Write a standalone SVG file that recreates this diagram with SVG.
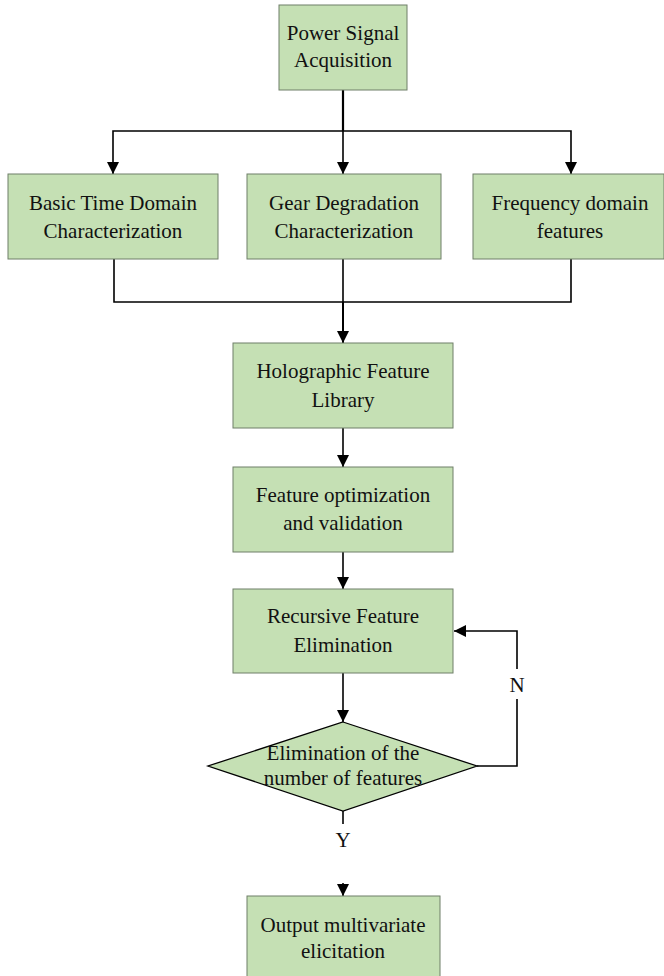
<svg xmlns="http://www.w3.org/2000/svg" width="664" height="976" viewBox="0 0 664 976">
<defs>
<marker id="arr" markerWidth="12" markerHeight="12" refX="12" refY="6" orient="auto" markerUnits="userSpaceOnUse">
<path d="M0,0 L12,6 L0,12 Z" fill="#000"/>
</marker>
<style>
.box{fill:#c5e0b4;stroke:#6f7f68;stroke-width:1}
.t{font-family:"Liberation Serif","Times New Roman",serif;font-size:21px;fill:#111;text-anchor:middle}
.c{fill:none;stroke:#000;stroke-width:1.6}
.ca{fill:none;stroke:#000;stroke-width:1.6;marker-end:url(#arr)}
</style>
</defs>
<rect width="664" height="976" fill="#fff"/>
<g id="connectors">
<path class="c" d="M343,90 V131" style="stroke-width:2.2"/>
<path class="ca" d="M343,131 H113 V174"/>
<path class="ca" d="M343,131 V174"/>
<path class="ca" d="M343,131 H571 V174"/>
<path class="c" d="M114,259 V302 H571 V259"/>
<path class="c" d="M343,259 V302"/>
<path class="ca" d="M343,302 V343" style="stroke-width:2"/>
<path class="ca" d="M343,428 V467"/>
<path class="ca" d="M343,552 V589"/>
<path class="ca" d="M343,673 V722"/>
<path class="c" d="M477,766 H517 V699"/>
<path class="ca" d="M517,669 V631 H454"/>
<path class="c" d="M343,811 V824"/>
<path class="ca" d="M343,883 V896"/>
<text class="t" x="517" y="692">N</text>
<text class="t" x="343" y="847">Y</text>
</g>
<g id="n1"><rect class="box" x="279" y="5" width="128" height="85"/>
<text class="t" x="343" y="40">Power Signal</text><text class="t" x="343" y="67">Acquisition</text></g>
<g id="n2"><rect class="box" x="8" y="174" width="210" height="85"/>
<text class="t" x="113" y="210">Basic Time Domain</text><text class="t" x="113" y="238">Characterization</text></g>
<g id="n3"><rect class="box" x="247" y="174" width="194" height="85"/>
<text class="t" x="344" y="210">Gear Degradation</text><text class="t" x="344" y="238">Characterization</text></g>
<g id="n4"><rect class="box" x="473" y="174" width="191" height="85"/>
<text class="t" x="570" y="210">Frequency domain</text><text class="t" x="570" y="238">features</text></g>
<g id="n5"><rect class="box" x="233" y="343" width="220" height="85"/>
<text class="t" x="343" y="378">Holographic Feature</text><text class="t" x="343" y="407">Library</text></g>
<g id="n6"><rect class="box" x="233" y="467" width="220" height="85"/>
<text class="t" x="343" y="502">Feature optimization</text><text class="t" x="343" y="530">and validation</text></g>
<g id="n7"><rect class="box" x="233" y="589" width="220" height="84"/>
<text class="t" x="343" y="623">Recursive Feature</text><text class="t" x="343" y="652">Elimination</text></g>
<g id="n8"><polygon class="box" points="343,722 477,766 343,811 208,766" style="stroke:#000;stroke-width:1.3"/>
<text class="t" x="343" y="760">Elimination of the</text><text class="t" x="343" y="785">number of features</text></g>
<g id="n9"><rect class="box" x="247" y="896" width="193" height="90"/>
<text class="t" x="343" y="932">Output multivariate</text><text class="t" x="343" y="958">elicitation</text></g>
</svg>
